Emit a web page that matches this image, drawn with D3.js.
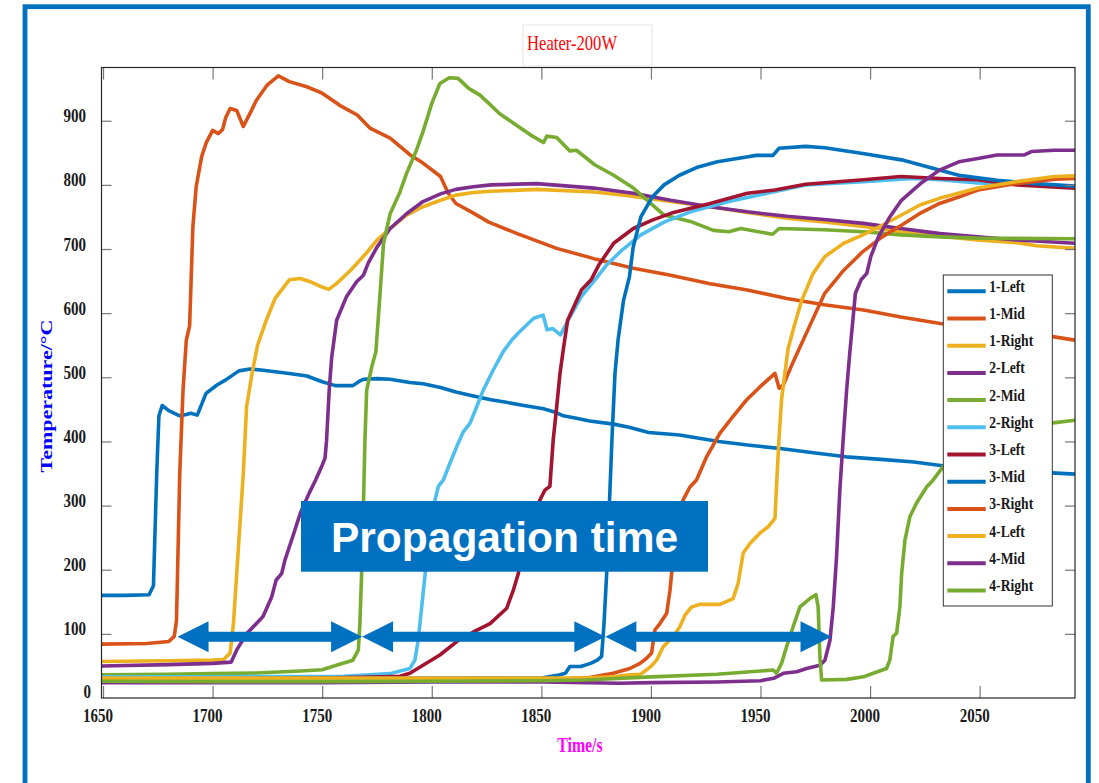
<!DOCTYPE html>
<html><head><meta charset="utf-8">
<script src="https://cdn.jsdelivr.net/npm/d3@7"></script>
<style>body{margin:0;background:#fff;} svg{display:block;}</style>
</head><body><svg id="chart" width="1099" height="783"></svg>
<script>
// ---------------- data ----------------
const chartTitle = "Heater-200W";
const xLabel = "Time/s";
const yLabel = "Temperature/°C";
const overlayText = "Propagation time";
const xTicks = [1650, 1700, 1750, 1800, 1850, 1900, 1950, 2000, 2050];
const yTicks = [0, 100, 200, 300, 400, 500, 600, 700, 800, 900];
const seriesNames = ["1-Left","1-Mid","1-Right","2-Left","2-Mid","2-Right","3-Left","3-Mid","3-Right","4-Left","4-Mid","4-Right"];
const seriesColors = ["#0072BD","#D95319","#EDB120","#7E2F8E","#77AC30","#4DBEEE","#A2142F","#0072BD","#D95319","#EDB120","#7E2F8E","#77AC30"];
// arrow stops (time) and level (temperature) of the propagation-time arrows
const arrowStops = [1684, 1768.2, 1879.2, 1982.4];
const arrowLevel = 95.6;

const s1Left = [[1649.3,160],[1660,160],[1671,161],[1673,175],[1674.5,350],[1675.5,440],[1677,456],[1680,448],[1685,440],[1688,442],[1690,444],[1693,441],[1697,475],[1702,488],[1706,496],[1712,510],[1717,513],[1723,511],[1735,506],[1743,502],[1750,493],[1756,487],[1764,487],[1767,494],[1769,497],[1775,498],[1781,497],[1790,492],[1796,490],[1804,484],[1811,477],[1819,471],[1827,465],[1834,461],[1842,456],[1851,451],[1856,446],[1860,440],[1866,436],[1872,432],[1883,427],[1890,422],[1899,414],[1913,410],[1931,400],[1945,394],[1959,389],[1975,382],[1989,376],[2005,372],[2020,368],[2033,362],[2050,357],[2065,354],[2083,351],[2093.5,349]];
const s1Mid = [[1649.3,84],[1670,85],[1680,88],[1682.5,96],[1683.5,120],[1684,195],[1685,350],[1686.5,480],[1688,558],[1689.5,580],[1691,735],[1692.5,797],[1695,844],[1697,865],[1700,885],[1702.5,880],[1704.5,886],[1706,905],[1708,919],[1711,916],[1714,891],[1717,911],[1720,932],[1725,956],[1730,970],[1735,961],[1743,953],[1750,943],[1758,924],[1766,909],[1772,888],[1781,873],[1790,847],[1796,834],[1804,813],[1807.5,787],[1811,771],[1819,756],[1826,742],[1839,724],[1857,701],[1874,685],[1892,670],[1909,659],[1927,646],[1944,636],[1962,623],[1979,613],[1997,605],[2014,594],[2032,584],[2050,577],[2066,570],[2084,563],[2093.5,558]];
const s1Right = [[1649.3,57],[1680,58],[1700,59],[1705,60],[1708,70],[1709.5,116],[1711,194],[1712.5,272],[1714,350],[1715.5,454],[1718,506],[1720.5,550],[1724.5,589],[1728.5,623],[1735,652],[1740,654],[1744.5,649],[1749,642],[1753,637],[1756.5,646],[1763,667],[1770,693],[1775,714],[1781,732],[1788.5,753],[1796,766],[1804,776],[1811,784],[1819,788],[1827,790],[1848,793],[1874,789],[1888,784],[1909,774],[1927,766],[1944,757],[1962,748],[1979,742],[1997,735],[2014,727],[2032,720],[2049,714],[2067,710],[2076,705],[2093.5,701]];
const s2Left = [[1649.3,50],[1680,52],[1700,54],[1708.5,56],[1711,75],[1715.5,100],[1723,127],[1727,158],[1729,184],[1731.5,194],[1733,215],[1737,256],[1740,288],[1744,319],[1747,340],[1750,363],[1751.3,374],[1752,402],[1753.2,480],[1754.3,530],[1756.6,589],[1761,625],[1765.7,649],[1768.8,659],[1771,678],[1775,703],[1781,732],[1788.5,755],[1796,774],[1804,786],[1811,793],[1819,797],[1827,800],[1848,802],[1874,795],[1892,787],[1909,776],[1927,766],[1944,758],[1962,751],[1979,746],[1997,740],[2014,732],[2032,724],[2049,719],[2067,714],[2093.5,709]];
const s2Mid = [[1649.3,36],[1680,37],[1700,38],[1720,39],[1740,42],[1750,44],[1756.5,51],[1764,59],[1766.5,75],[1767.2,116],[1768,194],[1768.8,298],[1769.5,402],[1770.3,480],[1772.6,516],[1774.5,540],[1776.4,631],[1778,709],[1781,755],[1785.5,789],[1788.5,818],[1793,854],[1796,883],[1800,927],[1803.7,958],[1808,967],[1812,966],[1817,950],[1822,940],[1827,924],[1831,911],[1839.5,891],[1845,878],[1851,866],[1852.5,876],[1857,874],[1863,853],[1866,854],[1874.5,831],[1883,815],[1892,795],[1899,774],[1906,753],[1918,743],[1928.5,729],[1935.5,727],[1941,732],[1955.5,723],[1958.5,732],[1979,730],[1997,727],[2014,722],[2032,719],[2049,717],[2093.5,716]];
const s2Right = [[1649.3,33],[1700,33],[1760,34],[1781,38],[1790,46],[1792.3,59],[1793.8,90],[1795.4,142],[1797,194],[1799.2,272],[1801.5,309],[1803,330],[1805.3,340],[1808.3,366],[1811.4,392],[1814.4,415],[1817.4,428],[1820.5,454],[1823.5,480],[1828,511],[1832.6,540],[1836.5,558],[1839.5,569],[1846.5,592],[1850.8,597],[1852.6,574],[1855.2,576],[1858.7,566],[1863,594],[1868.3,626],[1874.5,652],[1879.7,675],[1886.7,698],[1895.4,722],[1906,742],[1918,758],[1935.5,774],[1953,787],[1970.5,800],[1997,805],[2019.5,810],[2032,808],[2049,803],[2067,801],[2093.5,797]];
const s3Left = [[1649.3,30],[1700,30],[1750,31],[1778,33],[1785.5,34],[1790,38.5],[1796,51],[1803.7,67],[1811.4,88],[1819,103],[1826.6,116],[1834.2,140],[1837.2,168],[1839.5,194],[1841.7,246],[1846.3,288],[1851.6,324],[1853.9,330],[1855.4,402],[1857,454],[1858.5,506],[1860,543],[1862,589],[1868.3,636],[1872.7,652],[1876.2,675],[1883,709],[1892,732],[1900.6,745],[1909.4,756],[1927,771],[1944,787],[1956.6,792],[1970.6,801],[1997,808],[2014,813],[2032,810],[2049,808],[2067,800],[2093.5,795]];
const s3Mid = [[1649.3,30],[1700,30],[1750,30],[1800,31],[1850,31],[1858,36],[1861,38.5],[1863,49],[1868,49],[1872.5,54],[1875.5,59],[1877.5,65],[1878.6,116],[1879.8,194],[1881,298],[1882.2,402],[1883.6,506],[1885,558],[1887.5,620],[1890.2,657],[1891.9,703],[1895.4,750],[1900.6,781],[1906,800],[1913,815],[1921.6,828],[1930.3,836],[1944.3,844],[1948,846],[1955.7,846],[1958.4,857],[1970.6,860],[1979.3,858],[1996.7,849],[2014.3,839],[2026.5,828],[2040.5,815],[2058,807],[2075.5,802],[2093.5,798]];
const s3Right = [[1649.3,29],[1700,29],[1800,29],[1860,30],[1872,32],[1882.8,38.5],[1890.4,46],[1895,54],[1898,62],[1900.3,70],[1901.8,106],[1904.1,116],[1907.2,132],[1908.7,168],[1910.2,220],[1911.7,272],[1914.7,309],[1917.8,329],[1920.8,340],[1925.4,376],[1931.5,413],[1937.5,439],[1943.7,465],[1949.7,485],[1956.6,506],[1958.5,483],[1960.4,488],[1964.9,524],[1969.5,558],[1972.3,579],[1979.3,631],[1988,667],[1996.7,696],[2005.5,719],[2014.3,737],[2023,756],[2031.7,771],[2040.5,781],[2049.2,792],[2066.6,802],[2084.2,809],[2093.5,810]];
const s4Left = [[1649.3,31],[1700,31],[1800,31],[1870,31],[1882.8,33],[1890.4,36],[1895.3,37],[1898,44],[1900.5,51],[1902.6,59],[1905.6,80],[1910.2,96],[1913.2,111],[1915.5,129],[1918.6,142],[1922.3,146],[1931.5,146],[1937.5,155],[1939.8,179],[1942.1,226],[1945.2,241],[1949.7,257],[1953.5,267],[1956.6,280],[1957.6,350],[1958.4,402],[1959.6,465],[1961.1,506],[1962.6,545],[1965.3,579],[1968.8,620],[1974,662],[1979.3,688],[1988,709],[1996.7,722],[2005.5,737],[2014.3,753],[2023,769],[2031.7,779],[2049.2,795],[2066.6,805],[2084.2,813],[2093.5,814]];
const s4Mid = [[1649.3,24],[1700,24],[1750,24],[1800,25],[1850,25],[1885.6,23],[1900,24],[1930,25],[1950,27],[1956,30.7],[1960.4,38.5],[1966.5,41],[1971,46],[1977.1,51],[1979.4,59],[1981.7,90],[1983.2,142],[1984.7,220],[1986.2,324],[1987.7,402],[1989.3,480],[1990.7,537],[1993.3,631],[1995.9,652],[1998.5,662],[2000.3,688],[2003.8,719],[2009,750],[2014.3,776],[2023,802],[2031.7,823],[2040.5,836],[2049.2,841],[2057.9,846.5],[2070.2,846.5],[2073.6,852],[2084.2,854],[2093.5,854]];
const s4Right = [[1649.3,26],[1700,25.5],[1750,25.5],[1800,26],[1850,27],[1870,28],[1900,33],[1930,37],[1955.8,43.6],[1957.3,38.5],[1959.6,54],[1961.9,80],[1964.9,111],[1968,142],[1972.5,155],[1975.3,161],[1976.3,142],[1977.1,64],[1977.9,28],[1989.3,29],[1997,33],[2001.4,38.5],[2007.5,46],[2009,59],[2010.5,96],[2012.1,101],[2013.6,142],[2014.4,194],[2015.9,246],[2018.2,283],[2021.2,304],[2025.8,329],[2028.8,340],[2033.4,361],[2040,380],[2050,398],[2060,412],[2070,421],[2083.5,429],[2093.5,433]];
const seriesData = [s1Left,s1Mid,s1Right,s2Left,s2Mid,s2Right,s3Left,s3Mid,s3Right,s4Left,s4Mid,s4Right];

// ---------------- drawing ----------------
const svg = d3.select('#chart');
const plot = {left:101.5, right:1075, top:67.5, bottom:698};
const x = d3.scaleLinear().domain([1649.3, 2093.5]).range([plot.left, plot.right]);
const y = d3.scaleLinear().domain([0, 983]).range([plot.bottom, plot.top]);
const SX = 0.77;           // horizontal squeeze of the original raster text
const serif = "'Liberation Serif','Times New Roman',serif";
const sans = "'Liberation Sans',Arial,sans-serif";
const blue = "#0070C0";

svg.append('rect').attr('x',0).attr('y',0).attr('width',1099).attr('height',783).attr('fill','#fff');
// outer blue frame
svg.append('rect').attr('x',25).attr('y',6.7).attr('width',1063.3).attr('height',820)
  .attr('fill','none').attr('stroke',blue).attr('stroke-width',4.8);

// clip
svg.append('clipPath').attr('id','clip').append('rect')
  .attr('x',plot.left).attr('y',plot.top).attr('width',plot.right-plot.left).attr('height',plot.bottom-plot.top);

// curves
const line = d3.line().x(d=>x(d[0])).y(d=>y(d[1]));
svg.append('g').attr('clip-path','url(#clip)')
  .selectAll('path').data(seriesData).join('path')
  .attr('d', line).attr('fill','none')
  .attr('stroke',(d,i)=>seriesColors[i]).attr('stroke-width',3.6)
  .attr('stroke-linejoin','round').attr('stroke-linecap','round');

// axes ticks (inward, mirrored)
const tickStyle = g => { g.select('.domain').remove(); g.selectAll('line').attr('stroke','#777').attr('stroke-width',1.2); g.selectAll('text').remove(); };
svg.append('g').attr('transform',`translate(0,${plot.bottom})`).call(d3.axisBottom(x).tickValues(xTicks).tickSize(-12)).call(tickStyle);
svg.append('g').attr('transform',`translate(0,${plot.top})`).call(d3.axisTop(x).tickValues(xTicks).tickSize(-12)).call(tickStyle);
svg.append('g').attr('transform',`translate(${plot.left},0)`).call(d3.axisLeft(y).tickValues(yTicks.filter(v=>v>0)).tickSize(-10)).call(tickStyle);
svg.append('g').attr('transform',`translate(${plot.right},0)`).call(d3.axisRight(y).tickValues(yTicks.filter(v=>v>0)).tickSize(-10)).call(tickStyle);
// box
svg.append('rect').attr('x',plot.left).attr('y',plot.top).attr('width',plot.right-plot.left).attr('height',plot.bottom-plot.top)
  .attr('fill','none').attr('stroke','#262626').attr('stroke-width',1.2);

// tick labels
const lab = svg.append('g').attr('font-family',serif).attr('font-weight','bold').attr('font-size',19.5).attr('fill','#1a1a1a');
xTicks.forEach(t=>{
  lab.append('text').attr('transform',`translate(${x(t)-5},721.7) scale(${SX},1)`).attr('text-anchor','middle').text(t);
});
yTicks.forEach(v=>{
  const xe = v===0 ? 91 : 86;
  const yb = v===0 ? y(v)-0.5 : y(v)+1.6;
  lab.append('text').attr('transform',`translate(${xe},${yb}) scale(${SX},1)`).attr('text-anchor','end').text(v);
});

// axis titles
svg.append('text').attr('transform',`translate(580,752) scale(${SX},1)`).attr('text-anchor','middle')
  .attr('font-family',serif).attr('font-weight','bold').attr('font-size',20.5).attr('fill','#ff00ff').text(xLabel);
svg.append('text').attr('transform',`translate(52,396) scale(${SX},1) rotate(-90)`).attr('text-anchor','middle')
  .attr('font-family',serif).attr('font-weight','bold').attr('font-size',22).attr('fill','#0000ff').text(yLabel);

// title
svg.append('rect').attr('x',523).attr('y',25).attr('width',129).attr('height',41).attr('fill','#fff').attr('stroke','#e3e3e3');
svg.append('text').attr('transform',`translate(527,50) scale(${SX},1)`).attr('font-family',serif)
  .attr('font-size',21.6).attr('fill','#ff0000').text(chartTitle);

// legend
const lg = svg.append('g');
lg.append('rect').attr('x',943.3).attr('y',275).attr('width',109).attr('height',331).attr('fill','#fff').attr('stroke','#333').attr('stroke-width',1);
seriesNames.forEach((n,i)=>{
  const ly = 291.3 + i*27.2;
  lg.append('line').attr('x1',947.3).attr('x2',985.7).attr('y1',ly).attr('y2',ly).attr('stroke',seriesColors[i]).attr('stroke-width',4);
  lg.append('text').attr('transform',`translate(989.3,${ly+0.5}) scale(${SX},1)`).attr('font-family',serif)
    .attr('font-weight','bold').attr('font-size',17.7).attr('fill','#1a1a1a').text(n);
});

// propagation overlay
svg.append('rect').attr('x',301).attr('y',501).attr('width',407).attr('height',70.7).attr('fill',blue);
svg.append('text').attr('x',504.5).attr('y',551.7).attr('text-anchor','middle').attr('font-family',sans)
  .attr('font-weight','bold').attr('font-size',42.5).attr('fill','#fff').text(overlayText);

// double arrows
const ay = y(arrowLevel), hl = 31, hh = 15.5, sh = 5;
const arrows = d3.pairs(arrowStops);
svg.append('g').selectAll('path').data(arrows).join('path')
  .attr('d', ([a,b])=>{
    const x1 = x(a), x2 = x(b);
    return `M${x1},${ay} L${x1+hl},${ay-hh} L${x1+hl},${ay-sh} L${x2-hl},${ay-sh} L${x2-hl},${ay-hh} L${x2},${ay} L${x2-hl},${ay+hh} L${x2-hl},${ay+sh} L${x1+hl},${ay+sh} L${x1+hl},${ay+hh} Z`;
  })
  .attr('fill',blue);
</script>
</body></html>
